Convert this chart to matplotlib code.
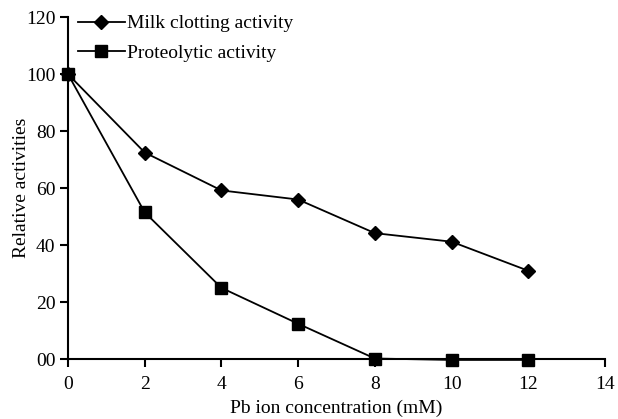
import matplotlib
matplotlib.use("Agg")
import matplotlib.pyplot as plt

concentration = [0, 2, 4, 6, 8, 10, 12]
milk_clotting = [100, 72.5, 59.2, 56.0, 44.2, 41.2, 31.0]
proteolytic = [100, 51.5, 25.0, 12.4, 0.2, -0.3, -0.3]
x_ticks = [0, 2, 4, 6, 8, 10, 12, 14]
y_ticks = [0, 20, 40, 60, 80, 100, 120]
y_tick_labels = ["00", "20", "40", "60", "80", "100", "120"]

plt.rcParams['font.family'] = ['Liberation Serif', 'DejaVu Serif']

fig = plt.figure(figsize=(6.18, 4.19), dpi=100)
ax = fig.add_axes([0.110, 0.143, 0.869, 0.816])

ax.plot(concentration, milk_clotting, color='black', marker='D', markersize=7,
        linewidth=1.3, label='Milk clotting activity', clip_on=False, zorder=3)
ax.plot(concentration, proteolytic, color='black', marker='s', markersize=8,
        linewidth=1.3, label='Proteolytic activity', clip_on=False, zorder=3)

ax.set_xlim(0, 14)
ax.set_ylim(0, 120)
ax.set_xticks(x_ticks)
ax.set_yticks(y_ticks)
ax.set_yticklabels(y_tick_labels)
ax.spines['top'].set_visible(False)
ax.spines['right'].set_visible(False)
for s in ['left', 'bottom']:
    ax.spines[s].set_linewidth(1.5)
ax.tick_params(direction='out', length=6, width=1.5, labelsize=14)
ax.tick_params(axis='x', pad=6)
ax.tick_params(axis='y', pad=3)

ax.set_xlabel('Pb ion concentration (mM)', fontsize=14, labelpad=5)
ax.set_ylabel('Relative activities', fontsize=14, labelpad=-3)

leg = ax.legend(loc='upper left', bbox_to_anchor=(0.004, 1.03), frameon=False,
                fontsize=14, handlelength=2.4, handletextpad=0.1, labelspacing=0.6,
                borderaxespad=0)

fig.savefig('out.png', dpi=100)
